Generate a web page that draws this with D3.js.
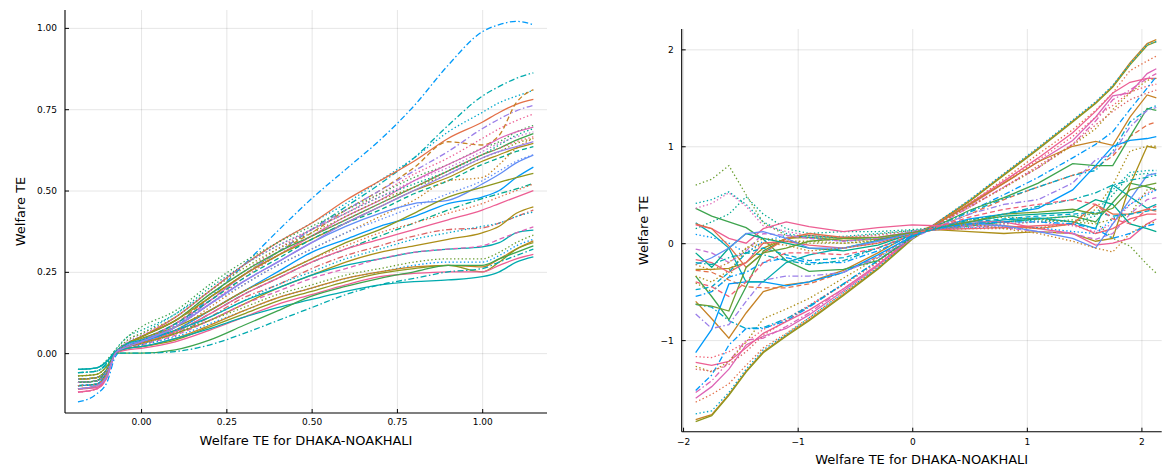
<!DOCTYPE html>
<html><head><meta charset="utf-8">
<script src="https://cdn.jsdelivr.net/npm/d3@7"></script>
<style>body{margin:0;background:#fff}svg{display:block}text{font-family:"DejaVu Sans",sans-serif;fill:#000}</style>
</head><body><svg id="c" width="1162" height="466"></svg>
<script>
// ---------------- DATA: left panel ----------------
const leftX = [-0.185,-0.13,-0.1,-0.075,-0.04,0.0,0.1,0.2,0.3,0.4,0.5,0.6,0.7,0.8,0.9,1.0,1.05,1.1,1.15];
const leftXTicks = [0,0.25,0.5,0.75,1.0];
const leftYTicks = [0,0.25,0.5,0.75,1.0];
const L01=[-0.15,-0.125,-0.09,-0.01,0.02,0.03,0.08,0.17,0.27,0.375,0.475,0.565,0.655,0.76,0.885,0.988,1.01,1.02,1.01];
const L02=[-0.06,-0.055,-0.03,0.0,0.03,0.05,0.10,0.17,0.24,0.31,0.38,0.45,0.52,0.60,0.70,0.79,0.82,0.845,0.862];
const L03=[-0.07,-0.065,-0.04,0.0,0.04,0.06,0.12,0.19,0.27,0.34,0.40,0.46,0.53,0.60,0.68,0.74,0.77,0.79,0.808];
const L04=[-0.08,-0.075,-0.05,0.0,0.03,0.05,0.11,0.19,0.27,0.34,0.40,0.47,0.53,0.59,0.66,0.71,0.74,0.765,0.78];
const L05=[-0.09,-0.085,-0.06,0.0,0.02,0.04,0.09,0.17,0.24,0.31,0.37,0.44,0.50,0.57,0.65,0.64,0.67,0.77,0.81];
const L06=[-0.10,-0.095,-0.065,0.0,0.02,0.03,0.08,0.16,0.24,0.31,0.38,0.44,0.50,0.56,0.62,0.69,0.72,0.745,0.762];
const L07=[-0.10,-0.095,-0.06,0.0,0.03,0.05,0.10,0.18,0.25,0.32,0.38,0.43,0.49,0.55,0.60,0.66,0.69,0.715,0.735];
const L08=[-0.05,-0.045,-0.02,0.01,0.05,0.08,0.13,0.21,0.28,0.34,0.39,0.44,0.49,0.54,0.58,0.63,0.65,0.68,0.70];
const L09=[-0.11,-0.105,-0.07,0.0,0.02,0.04,0.09,0.16,0.24,0.30,0.36,0.42,0.47,0.53,0.58,0.63,0.66,0.68,0.695];
const L10=[-0.06,-0.055,-0.03,0.01,0.05,0.07,0.12,0.20,0.27,0.33,0.38,0.43,0.48,0.52,0.56,0.61,0.64,0.67,0.69];
const L11=[-0.09,-0.085,-0.055,0.0,0.03,0.05,0.10,0.18,0.25,0.31,0.36,0.41,0.46,0.51,0.56,0.61,0.63,0.655,0.675];
const L12=[-0.12,-0.11,-0.07,0.0,0.02,0.03,0.08,0.15,0.23,0.30,0.36,0.41,0.46,0.51,0.56,0.61,0.63,0.65,0.665];
const L13=[-0.07,-0.065,-0.04,0.0,0.04,0.06,0.11,0.19,0.26,0.32,0.37,0.42,0.47,0.51,0.55,0.60,0.62,0.645,0.66];
const L14=[-0.08,-0.075,-0.05,0.0,0.03,0.05,0.10,0.17,0.24,0.30,0.35,0.40,0.45,0.50,0.54,0.59,0.61,0.63,0.645];
const L15=[-0.10,-0.095,-0.06,0.0,0.02,0.04,0.09,0.16,0.23,0.29,0.35,0.40,0.44,0.49,0.53,0.58,0.60,0.62,0.635];
const L16=[-0.11,-0.10,-0.065,0.0,0.02,0.03,0.07,0.14,0.21,0.27,0.32,0.37,0.42,0.47,0.53,0.54,0.58,0.63,0.66];
const L17=[-0.09,-0.085,-0.055,0.0,0.025,0.04,0.08,0.15,0.22,0.28,0.34,0.39,0.43,0.46,0.47,0.52,0.55,0.585,0.609];
const L18=[-0.10,-0.095,-0.06,0.0,0.02,0.035,0.07,0.13,0.19,0.25,0.31,0.35,0.39,0.42,0.46,0.48,0.50,0.54,0.572];
const L19=[-0.07,-0.065,-0.04,0.0,0.03,0.045,0.08,0.13,0.19,0.24,0.29,0.34,0.38,0.43,0.48,0.51,0.525,0.54,0.553];
const L20=[-0.10,-0.095,-0.06,0.0,0.02,0.03,0.065,0.12,0.18,0.23,0.28,0.32,0.36,0.40,0.44,0.475,0.49,0.505,0.522];
const L21=[-0.11,-0.105,-0.07,0.0,0.02,0.03,0.065,0.12,0.18,0.23,0.28,0.32,0.35,0.38,0.41,0.44,0.46,0.48,0.50];
const L22=[-0.11,-0.10,-0.065,0.0,0.02,0.03,0.06,0.11,0.17,0.21,0.26,0.30,0.33,0.36,0.38,0.385,0.40,0.42,0.44];
const L23=[-0.09,-0.085,-0.055,0.0,0.02,0.03,0.06,0.11,0.16,0.21,0.25,0.29,0.32,0.35,0.37,0.39,0.40,0.42,0.434];
const L24=[-0.08,-0.075,-0.05,0.0,0.02,0.03,0.06,0.10,0.15,0.20,0.24,0.28,0.31,0.33,0.35,0.37,0.39,0.43,0.45];
const L25=[-0.05,-0.045,-0.025,0.005,0.03,0.04,0.07,0.11,0.16,0.20,0.24,0.27,0.29,0.31,0.32,0.327,0.34,0.37,0.378];
const L26=[-0.12,-0.11,-0.075,0.0,0.015,0.025,0.055,0.10,0.15,0.19,0.23,0.26,0.29,0.31,0.32,0.33,0.35,0.37,0.388];
const L27=[-0.09,-0.085,-0.055,0.0,0.02,0.03,0.06,0.10,0.14,0.18,0.21,0.24,0.26,0.28,0.29,0.29,0.31,0.34,0.363];
const L28=[-0.10,-0.095,-0.06,0.0,0.015,0.025,0.05,0.09,0.13,0.17,0.20,0.23,0.25,0.27,0.28,0.28,0.30,0.33,0.35];
const L29=[-0.11,-0.10,-0.065,0.0,0.015,0.02,0.045,0.085,0.13,0.17,0.20,0.23,0.25,0.265,0.27,0.265,0.29,0.32,0.345];
const L30=[-0.08,-0.075,-0.05,0.0,0.015,0.02,0.04,0.08,0.12,0.16,0.19,0.22,0.245,0.26,0.27,0.25,0.28,0.32,0.34];
const L31=[-0.12,-0.11,-0.075,0.0,0.01,0.015,0.035,0.07,0.11,0.15,0.18,0.21,0.235,0.245,0.25,0.25,0.27,0.29,0.304];
const L32=[-0.05,-0.045,-0.025,0.005,0.015,0.02,0.045,0.075,0.11,0.14,0.165,0.19,0.21,0.22,0.225,0.235,0.25,0.28,0.296];
const L33=[-0.09,-0.085,-0.05,0.0,0.0,0.0,0.01,0.04,0.085,0.13,0.175,0.205,0.23,0.25,0.27,0.27,0.29,0.31,0.33];
const L34=[-0.06,-0.055,-0.035,0.0,0.0,0.0,0.005,0.025,0.06,0.10,0.14,0.18,0.21,0.23,0.25,0.26,0.28,0.30,0.32];
const L35=[-0.09,-0.085,-0.055,0.0,0.035,0.055,0.11,0.19,0.27,0.33,0.38,0.43,0.48,0.53,0.57,0.62,0.645,0.665,0.68];
const L36=[-0.08,-0.075,-0.05,0.0,0.025,0.04,0.085,0.15,0.21,0.27,0.32,0.37,0.41,0.45,0.49,0.53,0.56,0.59,0.61];
const L37=[-0.10,-0.095,-0.06,0.0,0.02,0.03,0.07,0.13,0.19,0.24,0.29,0.33,0.37,0.40,0.43,0.46,0.48,0.50,0.52];
const L38=[-0.11,-0.10,-0.07,0.0,0.02,0.035,0.08,0.15,0.22,0.28,0.34,0.40,0.45,0.50,0.55,0.60,0.62,0.635,0.65];
const leftValues=[L01,L02,L03,L04,L05,L06,L07,L08,L09,L10,L11,L12,L13,L14,L15,L16,L17,L18,L19,L20,L21,L22,L23,L24,L25,L26,L27,L28,L29,L30,L31,L32,L33,L34,L35,L36,L37,L38];
const leftColors=["#009AFA","#00AAAE","#00A8CB","#E36F47","#C68225","#9B7FE9","#ED5E93","#3EA44E","#DD64B6","#00A98D","#3EA44E","#F06073","#8E971E","#AC8E18","#00A98D","#C68225","#618DF6","#009AFA","#8E971E","#00A98D","#ED5E93","#DD6465","#00A8CB","#AC8E18","#00AAAE","#DD64B6","#6C9F33","#009AFA","#C68225","#8E971E","#ED5E93","#00AAAE","#3EA44E","#00AAAE","#C371D2","#618DF6","#E36F47","#9B7FE9"];
const leftStyles=["dashdot","dashdot","dot","solid","dash","dashdot","dot","dot","solid","dot","solid","dot","dot","solid","dash","dot","solid","solid","solid","dashdot","solid","dashdot","dot","solid","solid","dash","dot","dot","solid","solid","solid","solid","solid","dashdot","dot","dot","dot","solid"];

// ---------------- DATA: right panel ----------------
const rightX=[-1.89,-1.75,-1.6,-1.45,-1.3,-1.1,-0.9,-0.6,-0.3,0.0,0.2,0.5,0.8,1.1,1.4,1.6,1.75,1.9,2.05,2.13];
const rightXTicks=[-2,-1,0,1,2];
const rightYTicks=[-1,0,1,2];
const R01=[-1.82,-1.77,-1.56,-1.32,-1.12,-0.95,-0.79,-0.53,-0.26,0.05,0.2,0.44,0.71,0.98,1.26,1.45,1.62,1.86,2.06,2.10];
const R02=[-1.84,-1.78,-1.57,-1.33,-1.13,-0.96,-0.80,-0.54,-0.27,0.04,0.19,0.43,0.70,0.97,1.25,1.44,1.61,1.84,2.04,2.08];
const R03=[-1.76,-1.73,-1.54,-1.30,-1.10,-0.94,-0.77,-0.51,-0.25,0.06,0.2,0.45,0.72,0.99,1.27,1.46,1.63,1.85,2.05,2.08];
const R04=[-1.64,-1.56,-1.45,-1.26,-1.08,-0.93,-0.77,-0.51,-0.24,0.06,0.19,0.41,0.66,0.92,1.17,1.37,1.55,1.78,1.88,1.93];
const R05=[-1.60,-1.48,-1.30,-1.05,-0.96,-0.88,-0.74,-0.49,-0.23,0.06,0.19,0.39,0.62,0.84,1.06,1.30,1.52,1.55,1.75,1.80];
const R06=[-1.23,-1.26,-1.22,-1.08,-0.93,-0.81,-0.69,-0.47,-0.22,0.06,0.19,0.41,0.64,0.88,1.14,1.36,1.55,1.66,1.70,1.70];
const R07=[-1.17,-1.18,-1.12,-1.02,-0.89,-0.78,-0.64,-0.42,-0.19,0.07,0.19,0.40,0.63,0.86,1.10,1.30,1.42,1.56,1.62,1.64];
const R08=[-1.54,-1.42,-1.22,-1.0,-0.98,-0.86,-0.72,-0.47,-0.22,0.06,0.18,0.37,0.58,0.78,1.02,1.26,1.48,1.58,1.70,1.75];
const R09=[-1.27,-1.33,-1.22,-1.02,-0.78,-0.68,-0.57,-0.36,-0.15,0.08,0.19,0.38,0.57,0.78,1.01,1.18,1.38,1.55,1.68,1.70];
const R10=[-1.52,-1.36,-1.05,-0.88,-0.88,-0.80,-0.66,-0.42,-0.18,0.07,0.18,0.33,0.50,0.68,0.88,1.02,1.15,1.38,1.60,1.72];
const R11=[-1.30,-1.32,-1.25,-1.12,-0.95,-0.80,-0.65,-0.43,-0.20,0.07,0.18,0.37,0.58,0.80,1.02,1.22,1.36,1.48,1.55,1.58];
const R12=[-0.60,-0.78,-0.98,-0.72,-0.50,-0.43,-0.40,-0.28,-0.10,0.10,0.19,0.40,0.62,0.84,1.0,1.05,1.01,1.30,1.53,1.50];
const R13=[-0.28,-0.30,-0.38,-0.45,-0.46,-0.46,-0.42,-0.30,-0.14,0.08,0.16,0.30,0.45,0.58,0.70,0.78,0.90,1.10,1.22,1.25];
const R14=[-0.63,-0.66,-0.80,-0.88,-0.87,-0.78,-0.65,-0.42,-0.18,0.07,0.17,0.32,0.46,0.58,0.70,0.75,0.95,1.25,1.38,1.42];
const R15=[-0.34,-0.55,-0.79,-0.45,-0.08,0.05,0.08,0.05,0.04,0.10,0.14,0.18,0.22,0.25,0.28,0.22,0.42,0.62,0.58,0.55];
const R16=[0.36,0.28,0.22,0.16,0.04,-0.18,-0.29,-0.27,-0.18,0.06,0.17,0.34,0.47,0.62,0.82,0.80,0.80,1.10,1.39,1.37];
const R17=[-1.13,-0.89,-0.42,-0.40,-0.40,-0.44,-0.40,-0.30,-0.12,0.07,0.16,0.25,0.30,0.36,0.55,0.80,1.0,1.06,1.08,1.10];
const R18=[-0.73,-0.88,-0.84,-0.60,-0.38,-0.34,-0.34,-0.30,-0.15,0.05,0.16,0.30,0.40,0.45,0.62,0.86,0.92,1.20,1.37,1.40];
const R19=[-0.34,-0.40,-0.28,-0.10,0.0,0.02,0.02,0.00,0.02,0.11,0.14,0.15,0.15,0.16,0.20,0.35,0.60,0.95,1.0,1.0];
const R20=[-0.27,-0.27,-0.26,-0.20,-0.05,0.05,0.06,0.03,0.04,0.10,0.14,0.12,0.10,0.12,0.10,0.02,0.05,0.60,1.00,0.98];
const R21=[0.60,0.66,0.80,0.50,0.21,0.08,0.05,0.06,0.09,0.13,0.15,0.18,0.20,0.22,0.24,0.22,0.05,-0.03,-0.22,-0.31];
const R22=[0.41,0.45,0.53,0.40,0.22,0.10,0.06,0.07,0.10,0.13,0.15,0.18,0.22,0.25,0.28,0.30,0.55,0.73,0.75,0.75];
const R23=[0.36,0.41,0.52,0.38,0.18,0.12,0.08,0.06,0.08,0.12,0.14,0.16,0.20,0.22,0.18,0.12,0.20,0.40,0.52,0.55];
const R24=[0.15,0.22,0.30,0.48,0.30,0.15,0.10,0.12,0.12,0.14,0.16,0.20,0.22,0.24,0.22,0.28,0.50,0.70,0.72,0.70];
const R25=[0.21,0.10,-0.05,-0.40,-0.40,-0.20,-0.12,-0.05,0.03,0.11,0.15,0.20,0.24,0.26,0.22,0.15,0.60,0.48,0.36,0.40];
const R26=[0.19,0.15,0.05,0.0,0.15,0.22,0.17,0.12,0.16,0.19,0.18,0.22,0.22,0.15,0.10,-0.02,0.00,0.05,0.20,0.25];
const R27=[0.09,0.06,0.0,-0.10,0.02,0.08,0.06,0.02,0.05,0.12,0.14,0.16,0.17,0.16,0.12,0.10,0.25,0.40,0.50,0.55];
const R28=[0.20,0.15,-0.03,-0.25,-0.10,0.05,0.10,0.06,0.06,0.11,0.15,0.20,0.18,0.15,0.20,0.40,0.30,0.30,0.35,0.33];
const R29=[-0.06,-0.10,-0.20,-0.08,0.10,0.08,0.05,0.02,0.05,0.12,0.15,0.18,0.16,0.12,0.10,0.04,0.10,0.30,0.45,0.47];
const R30=[-0.17,-0.20,-0.30,-0.20,0.00,0.02,-0.02,-0.05,0.00,0.10,0.14,0.15,0.16,0.18,0.20,0.10,0.15,0.25,0.30,0.30];
const R31=[-0.10,-0.25,-0.05,0.10,0.05,0.0,-0.05,-0.08,-0.02,0.10,0.15,0.22,0.28,0.30,0.32,0.45,0.40,0.20,0.15,0.12];
const R32=[-0.41,-0.50,-0.35,-0.05,0.05,0.02,0.0,0.0,0.03,0.11,0.15,0.24,0.27,0.25,0.22,0.20,0.25,0.30,0.55,0.57];
const R33=[-0.22,-0.15,-0.05,0.10,0.12,0.05,-0.05,-0.05,0.02,0.10,0.14,0.20,0.18,0.12,0.05,-0.05,0.20,0.45,0.70,0.72];
const R34=[-0.48,-0.45,-0.30,-0.10,-0.05,-0.12,-0.18,-0.15,-0.05,0.08,0.15,0.22,0.25,0.28,0.30,0.32,0.28,0.30,0.33,0.35];
const R35=[-0.22,-0.28,-0.20,-0.05,0.0,-0.02,-0.08,-0.05,0.0,0.10,0.14,0.20,0.15,0.10,0.02,-0.05,-0.09,0.10,0.20,0.22];
const R36=[-0.63,-0.65,-0.70,-0.25,-0.10,-0.05,0.02,0.05,0.06,0.11,0.15,0.22,0.30,0.32,0.35,0.30,0.36,0.55,0.60,0.62];
const R37=[-0.55,-0.50,-0.35,-0.30,-0.20,-0.15,-0.20,-0.20,-0.08,0.08,0.15,0.20,0.22,0.22,0.20,0.15,0.05,0.10,0.18,0.20];
const R38=[-0.20,-0.22,-0.15,-0.10,-0.12,-0.18,-0.22,-0.18,-0.05,0.09,0.15,0.24,0.30,0.38,0.45,0.52,0.60,0.65,0.68,0.70];
const R39=[-0.40,-0.45,-0.55,-0.40,-0.20,-0.10,-0.10,-0.12,-0.05,0.09,0.16,0.27,0.35,0.40,0.45,0.40,0.25,0.20,0.35,0.38];
const rightValues=[R01,R02,R03,R04,R05,R06,R07,R08,R09,R10,R11,R12,R13,R14,R15,R16,R17,R18,R19,R20,R21,R22,R23,R24,R25,R26,R27,R28,R29,R30,R31,R32,R33,R34,R35,R36,R37,R38,R39];
const rightColors=["#C68225","#8E971E","#00A8CB","#E36F47","#DD64B6","#ED5E93","#F06073","#DD64B6","#AC8E18","#009AFA","#DD6465","#C68225","#E36F47","#00A8CB","#3EA44E","#3EA44E","#009AFA","#9B7FE9","#AC8E18","#AC8E18","#6C9F33","#00AAAE","#DD64B6","#00A98D","#00AAAE","#ED5E93","#009AFA","#E36F47","#C371D2","#F06073","#00A98D","#8E971E","#618DF6","#00A8CB","#C68225","#6C9F33","#009AFA","#00AAAE","#F06073"];
const rightStyles=["solid","solid","dot","dot","solid","solid","dot","dashdot","dot","dashdot","dot","solid","dash","dashdot","solid","solid","solid","dashdot","dot","solid","dot","dot","dot","dot","solid","solid","dot","solid","dash","solid","solid","dot","solid","dash","dot","solid","dashdot","dashdot","dash"];

const xLabel="Welfare TE for DHAKA-NOAKHALI";
const yLabel="Welfare TE";

// ---------------- DRAW ----------------
const svg=d3.select("#c");
const dashes={solid:null,dot:"1.4,2.4",dash:"5,3",dashdot:"6,2.5,1.5,2.5"};

function panel(o){
  const x=d3.scaleLinear().domain(o.xd).range([o.l,o.r]);
  const y=d3.scaleLinear().domain(o.yd).range([o.b,o.t]);
  const g=svg.append("g");
  g.append("g").attr("transform",`translate(0,${o.b})`)
    .call(d3.axisBottom(x).tickValues(o.xt).tickSize(-(o.b-o.t)).tickFormat(""))
    .call(s=>{s.select(".domain").remove();s.selectAll("line").attr("stroke","#000").attr("stroke-opacity",0.1);});
  g.append("g").attr("transform",`translate(${o.l},0)`)
    .call(d3.axisLeft(y).tickValues(o.yt).tickSize(-(o.r-o.l)).tickFormat(""))
    .call(s=>{s.select(".domain").remove();s.selectAll("line").attr("stroke","#000").attr("stroke-opacity",0.1);});
  const line=d3.line().x((d,i)=>x(o.xs[i])).y(d=>y(d)).curve(o.curve);
  o.vals.forEach((v,k)=>{
    g.append("path").attr("d",line(v)).attr("fill","none")
     .attr("stroke",o.cols[k]).attr("stroke-width",1.3)
     .attr("stroke-dasharray",dashes[o.sty[k]]);
  });
  const ax=g.append("g").attr("transform",`translate(0,${o.b})`)
    .call(d3.axisBottom(x).tickValues(o.xt).tickSize(-4).tickPadding(o.xpad).tickFormat(o.fmt));
  const ay=g.append("g").attr("transform",`translate(${o.l},0)`)
    .call(d3.axisLeft(y).tickValues(o.yt).tickSize(-4).tickPadding(8).tickFormat(o.fmt));
  [ax,ay].forEach(a=>{
    a.select(".domain").remove();
    a.selectAll("text").attr("font-size",9).attr("font-family","DejaVu Sans").attr("fill","#000");
    a.selectAll(".tick line").attr("stroke","#000");
  });
  g.append("line").attr("x1",o.l).attr("x2",o.l).attr("y1",o.t).attr("y2",o.b).attr("stroke","#000").attr("stroke-width",1.1);
  g.append("line").attr("x1",o.l).attr("x2",o.r).attr("y1",o.b).attr("y2",o.b).attr("stroke","#000").attr("stroke-width",1.1);
  g.append("text").attr("x",(o.l+o.r)/2).attr("y",o.xly).attr("text-anchor","middle").attr("font-size",13).text(xLabel);
  g.append("text").attr("transform",`translate(${o.ylx},${(o.t+o.b)/2}) rotate(-90)`).attr("text-anchor","middle").attr("font-size",13).text(yLabel);
}

panel({xd:[-0.223,1.19],yd:[-0.184,1.055],l:65,r:547,t:10,b:413,xs:leftX,vals:leftValues,cols:leftColors,sty:leftStyles,
  xt:leftXTicks,yt:leftYTicks,fmt:d3.format(".2f"),curve:d3.curveMonotoneX,xpad:6,xly:445,ylx:25});
panel({xd:[-2.012,2.177],yd:[-1.945,2.21],l:681.7,r:1161.7,t:29,b:431.7,xs:rightX,vals:rightValues,cols:rightColors,sty:rightStyles,
  xt:rightXTicks,yt:rightYTicks,fmt:d3.format("d"),curve:d3.curveLinear,xpad:7,xly:464,ylx:648});
</script></body></html>
